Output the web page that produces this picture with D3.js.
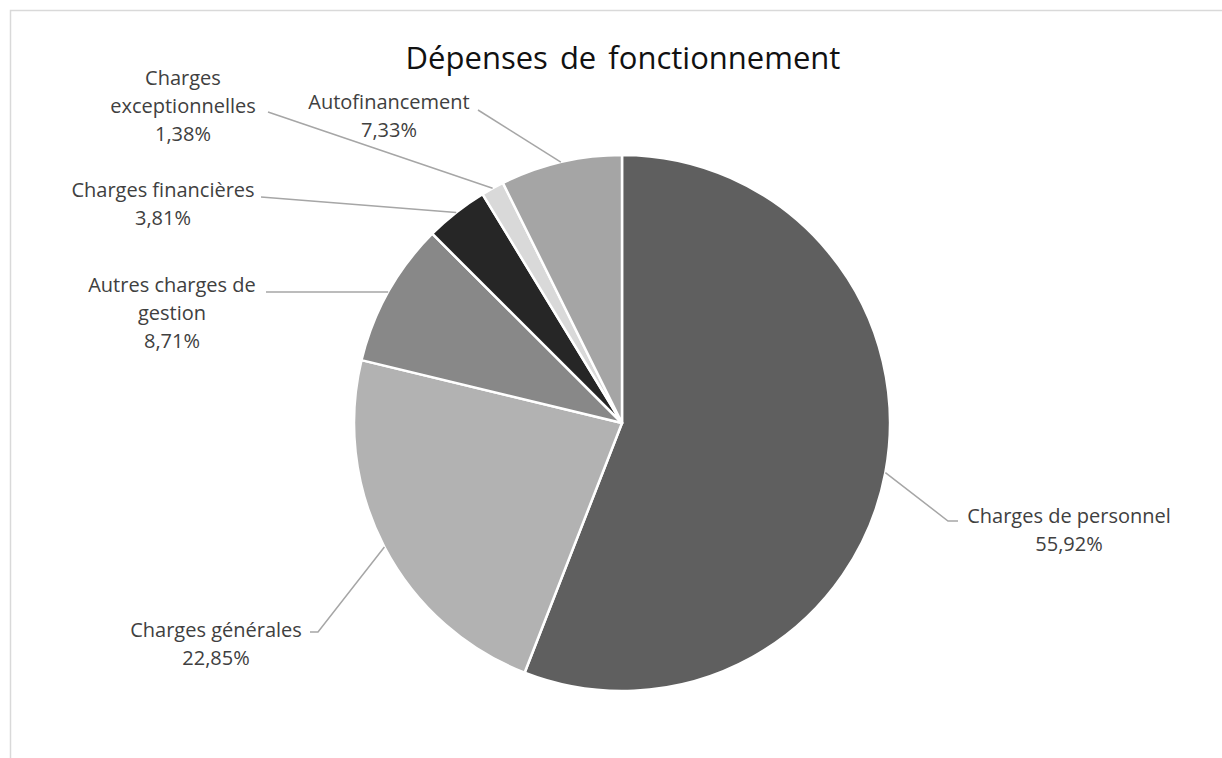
<!DOCTYPE html>
<html>
<head>
<meta charset="utf-8">
<script src="https://cdn.jsdelivr.net/npm/d3@7"></script>
<style>
  body { margin: 0; background: #fff; }
  text { font-family: 'Open Sans', sans-serif; }
</style>
</head>
<body>
<script>
const categories = ['Charges de personnel', 'Charges générales', 'Autres charges de gestion',
  'Charges financières', 'Charges exceptionnelles', 'Autofinancement'];
const values = [55.92, 22.85, 8.71, 3.81, 1.38, 7.33];
const labelLines = [
  ['Charges de personnel'],
  ['Charges générales'],
  ['Autres charges de', 'gestion'],
  ['Charges financières'],
  ['Charges', 'exceptionnelles'],
  ['Autofinancement'],
];
const colors = ['#5f5f5f', '#b2b2b2', '#888888', '#262626', '#d9d9d9', '#a5a5a5'];

// label layout: text centre x, first baseline y, leader start point, optional elbow
const labelLayout = [
  { x: 1069, y: 523, start: [958, 521], elbow: [948, 521] },
  { x: 216, y: 637, start: [310, 632], elbow: [318, 632] },
  { x: 172, y: 292, start: [266, 292] },
  { x: 163, y: 197, start: [261, 197] },
  { x: 183, y: 85, start: [268, 112] },
  { x: 389, y: 109, start: [478, 110] },
];

const W = 1222, H = 758;
const cx = 622, cy = 423, r = 268;

const svg = d3.select('body').append('svg').attr('width', W).attr('height', H);

svg.append('rect').attr('x', 10.5).attr('y', 10.5).attr('width', W + 20).attr('height', H + 20)
  .attr('fill', 'none').attr('stroke', '#d9d9d9').attr('stroke-width', 1.5);

svg.append('text').attr('x', 623).attr('y', 69).attr('text-anchor', 'middle')
  .attr('font-size', 31).attr('fill', '#111').attr('word-spacing', 4).text('Dépenses de fonctionnement');

const data = categories.map((c, i) => ({ name: c, value: values[i], lines: labelLines[i], color: colors[i], lay: labelLayout[i] }));

const pie = d3.pie().value(d => d.value).sort(null);
const arc = d3.arc().innerRadius(0).outerRadius(r);
const arcs = pie(data);

const g = svg.append('g').attr('transform', `translate(${cx},${cy})`);
g.selectAll('path').data(arcs).join('path')
  .attr('d', arc)
  .attr('fill', d => d.data.color)
  .attr('stroke', '#fff').attr('stroke-width', 2.5).attr('stroke-linejoin', 'round');

// leader lines
const line = d3.line();
svg.append('g').selectAll('path').data(arcs).join('path')
  .attr('fill', 'none').attr('stroke', '#a6a6a6').attr('stroke-width', 1.5)
  .attr('d', d => {
    const a = (d.startAngle + d.endAngle) / 2;
    const edge = [cx + r * Math.sin(a), cy - r * Math.cos(a)];
    const pts = [d.data.lay.start];
    if (d.data.lay.elbow) pts.push(d.data.lay.elbow);
    pts.push(edge);
    return line(pts);
  });

// labels
const fmt = v => d3.format('.2f')(v).replace('.', ',') + '%';
const lab = svg.append('g').selectAll('text').data(arcs).join('text')
  .attr('text-anchor', 'middle').attr('font-size', 20).attr('fill', '#404040')
  .attr('transform', d => `translate(${d.data.lay.x},${d.data.lay.y})`);
lab.each(function (d) {
  const t = d3.select(this);
  const rows = d.data.lines.concat([fmt(d.data.value)]);
  rows.forEach((s, i) => t.append('tspan').attr('x', 0).attr('y', i * 28).text(s));
});
</script>
</body>
</html>
